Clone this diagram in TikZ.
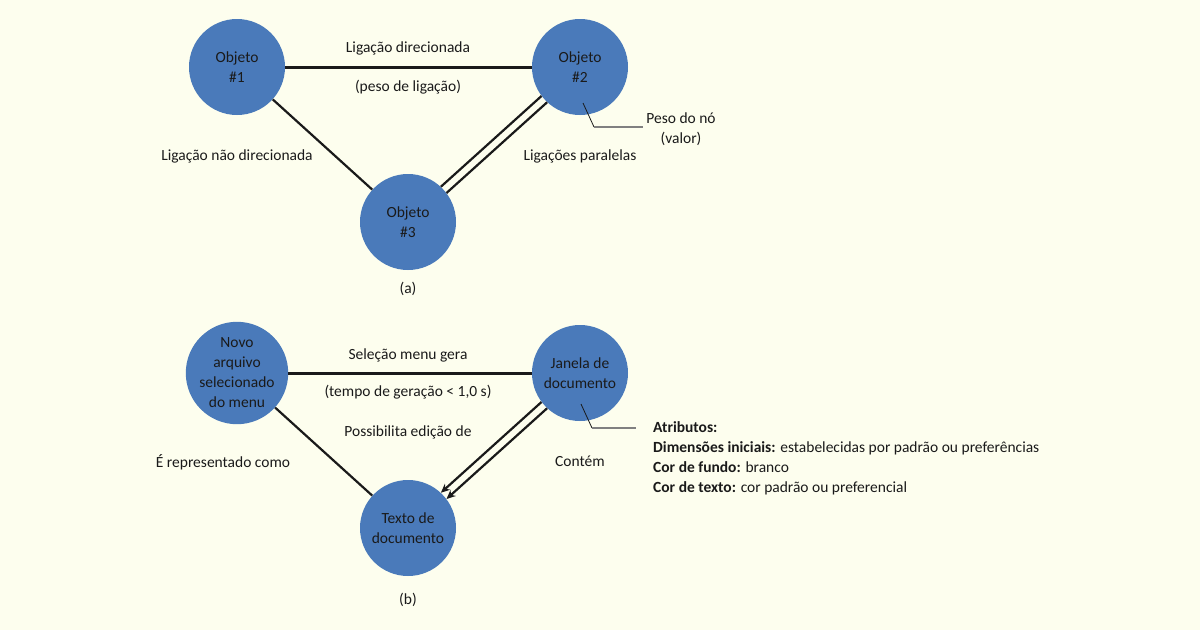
\documentclass[tikz,border=0pt]{standalone}
\usepackage{fontspec}
\setmainfont{Carlito}
\usepackage{tikz}
\usetikzlibrary{calc}
\usetikzlibrary{positioning,arrows.meta}

\definecolor{bgcol}{RGB}{253,254,238}
\definecolor{nodecol}{RGB}{74,122,186}
\definecolor{inkcol}{RGB}{26,26,26}

\tikzset{
    obj/.style={circle, fill=nodecol, minimum size=96pt, inner sep=0pt,
        align=center, text=inkcol, font=\fontsize{15.5}{20}\selectfont},
    edge/.style={draw=inkcol, line width=2.2pt},
    lbl/.style={text=inkcol, font=\fontsize{15.5}{20}\selectfont, align=center},
    callout/.style={draw=inkcol, line width=0.8pt},
    calloutgray/.style={draw=gray, line width=1.6pt},
}

\begin{document}
\begin{tikzpicture}[x=1pt, y=-1pt]
    \fill[bgcol] (0,0) rectangle (1200,630);
    \useasboundingbox (0,0) rectangle (1200,630);
    % (a)
    \node [obj] (a1) at (237,67) {Objeto\\\#1};
    \node [obj] (a2) at (580,67) {Objeto\\\#2};
    \node [obj] (a3) at (408,222) {Objeto\\\#3};
    \draw [edge, line width=3pt] (a1) -- (a2);
    \draw [edge] (a1) -- (a3);
    \draw [edge] (a2.217) -- (a3.47);
    \draw [edge] (a2.227) -- (a3.37);
    \node [lbl] (adir) at (408,48) {Ligação direcionada};
    \node [lbl] (apeso) at (408,87) {(peso de ligação)};
    \node [lbl] (anao) at (237,156) {Ligação não direcionada};
    \node [lbl] (apar) at (580,156) {Ligações paralelas};
    \node [lbl] (avalor) at (681,129) {Peso do nó\\(valor)};
    \coordinate (ka) at (583,103);
    \coordinate (kb) at (594,127);
    \draw [callout] (ka) -- (kb);
    \draw [calloutgray] (kb) -- (kb -| avalor.west);
    \node [lbl] (acap) at (408,289) {(a)};
    % (b)
    \node [obj] (b1) at (237,373) {Novo\\arquivo\\selecionado\\do menu};
    \node [obj] (b2) at (580,373) {Janela de\\documento};
    \node [obj] (b3) at (408,528) {Texto de\\documento};
    \draw [edge, line width=3pt] (b1) -- (b2);
    \draw [edge] (b1) -- (b3);
    \draw [edge, -{Stealth[length=9pt,width=8pt]}] (b2.217) -- (b3.47);
    \draw [edge, -{Stealth[length=9pt,width=8pt]}] (b2.227) -- (b3.37);
    \node [lbl] (bsel) at (408,355) {Seleção menu gera};
    \node [lbl] (btempo) at (408,392) {(tempo de geração < 1,0 s)};
    \node [lbl] (bposs) at (408,432) {Possibilita edição de};
    \node [lbl] (brep) at (223,462) {É representado como};
    \node [lbl] (bcont) at (580,461) {Contém};
    \node [lbl, align=left, anchor=north west, inner sep=0pt] (batr) at (653,421)
        {\textbf{Atributos:}\\
         \textbf{Dimensões iniciais:} estabelecidas por padrão ou preferências\\
         \textbf{Cor de fundo:} branco\\
         \textbf{Cor de texto:} cor padrão ou preferencial};
    \coordinate (kc) at (581,404);
    \coordinate (kd) at (592,428);
    \draw [callout] (kc) -- (kd);
    \draw [calloutgray] (kd) -- (636,428);
    \node [lbl] (bcap) at (408,600) {(b)};
\end{tikzpicture}
\end{document}
